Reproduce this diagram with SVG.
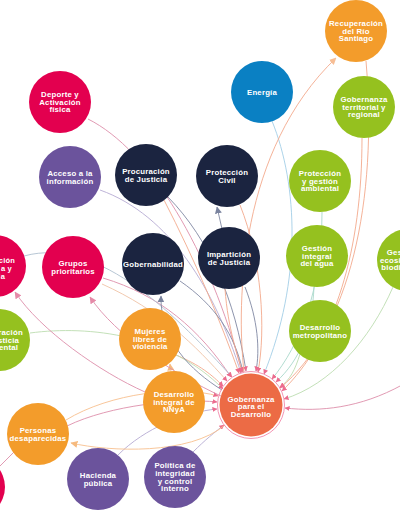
<svg xmlns="http://www.w3.org/2000/svg" width="400" height="516" viewBox="0 0 400 516">
<style>
.n text{font-family:"Liberation Sans",Arial,sans-serif;font-weight:bold;font-size:7.8px;fill:#fff;text-anchor:middle;letter-spacing:0.2px}
.red{fill:#E3004F}.navy{fill:#1B2440}.purple{fill:#6B539C}.blue{fill:#0A80C3}.orange{fill:#F39C2B}.green{fill:#95C11F}.hub{fill:#EC6B45}
#connectors path{fill:none;stroke-width:0.9}
.sal{stroke:#F3A98C}.pnk{stroke:#DE8FAA}.nv{stroke:#8088A3}.pur{stroke:#B6AAD3}.tl{stroke:#A9D8CB}.lb{stroke:#A3CEE6}.lg{stroke:#BCDDB0}.tan{stroke:#EFC3A6}.sl{stroke:#AFC0CF}.or{stroke:#F7C08F}
</style>
<defs>
<marker id="mh" viewBox="0 0 6 6" refX="5.5" refY="3" markerWidth="5" markerHeight="5" markerUnits="userSpaceOnUse" orient="auto"><path d="M0,0L6,3L0,6z" fill="#EC6C8E"/></marker>
<marker id="ms" viewBox="0 0 6 6" refX="5.5" refY="3" markerWidth="7" markerHeight="7" markerUnits="userSpaceOnUse" orient="auto"><path d="M0,0L6,3L0,6z" fill="#F7BE95"/></marker>
<marker id="mn" viewBox="0 0 6 6" refX="5.5" refY="3" markerWidth="7" markerHeight="7" markerUnits="userSpaceOnUse" orient="auto"><path d="M0,0L6,3L0,6z" fill="#7A839E"/></marker>
<marker id="mp" viewBox="0 0 6 6" refX="5.5" refY="3" markerWidth="7" markerHeight="7" markerUnits="userSpaceOnUse" orient="auto"><path d="M0,0L6,3L0,6z" fill="#E58AA8"/></marker>
<marker id="mo" viewBox="0 0 6 6" refX="5.5" refY="3" markerWidth="7" markerHeight="7" markerUnits="userSpaceOnUse" orient="auto"><path d="M0,0L6,3L0,6z" fill="#F6BA7E"/></marker>
</defs>
<rect width="400" height="516" fill="#fff"/>
<g id="connectors">
<path class="pnk" d="M88,119 C150,150 210,250 242,372" marker-end="url(#mh)"/>
<path class="pur" d="M100,190 C170,215 215,290 241,373" marker-end="url(#mh)"/>
<path class="nv" d="M168,197 C210,240 235,300 246,371" marker-end="url(#mh)"/>
<path class="sal" d="M164,200 C195,260 220,320 239,373" marker-end="url(#mh)"/>
<path class="lb" d="M272,121 C298,185 302,280 264,374" marker-end="url(#mh)"/>
<path class="tl" d="M322,212 C322,290 300,345 272,379" marker-end="url(#mh)"/>
<path class="tl" d="M314,287 C312,330 300,360 276,382" marker-end="url(#mh)"/>
<path class="lg" d="M300,354 C295,370 290,380 280,387" marker-end="url(#mh)"/>
<path class="sal" d="M366,61 C378,200 350,330 280,388" marker-end="url(#mh)"/>
<path class="sal" d="M362,138 C362,250 335,340 282,391" marker-end="url(#mh)"/>
<path class="lg" d="M393,287 C370,340 330,385 284,399" marker-end="url(#mh)"/>
<path class="pnk" d="M402,385 C360,408 320,412 285,408" marker-end="url(#mh)"/>
<path class="pur" d="M193,452 C205,440 215,432 224,425" marker-end="url(#mh)"/>
<path class="pur" d="M118,455 C145,428 185,412 217,409" marker-end="url(#mh)"/>
<path class="or" d="M66,420 C110,393 180,385 218,396" marker-end="url(#mh)"/>
<path class="pnk" d="M67,426 C110,405 180,398 217,402" marker-end="url(#mh)"/>
<path class="sal" d="M176,355 C200,365 212,375 223,386" marker-end="url(#mh)"/>
<path class="lg" d="M30,333 C90,325 170,335 223,389" marker-end="url(#mh)"/>
<path class="pnk" d="M103,278 C160,295 200,330 231,377" marker-end="url(#mh)"/>
<path class="tan" d="M102,284 C160,310 195,345 227,381" marker-end="url(#mh)"/>
<path class="sl" d="M24,256 C100,235 180,320 232,377" marker-end="url(#mh)"/>
<path class="nv" d="M180,281 C215,305 235,335 243,372" marker-end="url(#mh)"/>
<path class="nv" d="M245,287 C258,320 260,350 256,371" marker-end="url(#mh)"/>
<path class="sal" d="M240,205 C262,260 266,330 258,372" marker-end="url(#mh)"/>
<path class="sal" d="M225,289 C228,330 238,355 242,372" marker-end="url(#mh)"/>
<path class="sal" d="M244,372 C236,300 240,150 336,58" marker-end="url(#ms)"/>
<path class="or" d="M225,425 C190,455 110,452 71,443" marker-end="url(#mo)"/>
<path class="nv" d="M222,229 L217,207" marker-end="url(#mn)"/>
<path class="nv" d="M222,390 C190,370 160,340 161,296" marker-end="url(#mn)"/>
<path class="or" d="M171,372 L170,364" marker-end="url(#mo)"/>
<path class="pnk" d="M221,396 C175,375 115,335 90,297" marker-end="url(#mp)"/>
<path class="pnk" d="M145,392 C100,372 40,330 15,292" marker-end="url(#mp)"/>
<path class="pnk" d="M14,452 L-4,470"/>
</g>
<g id="deporte" class="n"><circle cx="60" cy="102" r="31" class="red"/><text x="60" y="97.2">Deporte y</text><text x="60" y="104.8">Activación</text><text x="60" y="112.4">física</text></g>
<g id="acceso" class="n"><circle cx="70" cy="177" r="31" class="purple"/><text x="70" y="176">Acceso a la</text><text x="70" y="183.6">información</text></g>
<g id="procuracion" class="n"><circle cx="146" cy="175" r="31" class="navy"/><text x="146" y="174">Procuración</text><text x="146" y="181.6">de Justicia</text></g>
<g id="proteccion-civil" class="n"><circle cx="227" cy="176" r="31" class="navy"/><text x="227" y="175">Protección</text><text x="227" y="182.6">Civil</text></g>
<g id="energia" class="n"><circle cx="262" cy="92" r="31" class="blue"/><text x="262" y="94.8">Energía</text></g>
<g id="recuperacion" class="n"><circle cx="356" cy="31" r="31" class="orange"/><text x="356" y="26.2">Recuperación</text><text x="356" y="33.8">del Río</text><text x="356" y="41.4">Santiago</text></g>
<g id="gob-territorial" class="n"><circle cx="364" cy="107" r="31" class="green"/><text x="364" y="102.2">Gobernanza</text><text x="364" y="109.8">territorial y</text><text x="364" y="117.4">regional</text></g>
<g id="proteccion-ambiental" class="n"><circle cx="320" cy="181" r="31" class="green"/><text x="320" y="176.2">Protección</text><text x="320" y="183.8">y gestión</text><text x="320" y="191.4">ambiental</text></g>
<g id="agua" class="n"><circle cx="317" cy="256" r="31" class="green"/><text x="317" y="251.2">Gestión</text><text x="317" y="258.8">integral</text><text x="317" y="266.4">del agua</text></g>
<g id="metropolitano" class="n"><circle cx="320" cy="331" r="31" class="green"/><text x="320" y="330">Desarrollo</text><text x="320" y="337.6">metropolitano</text></g>
<g id="ecosistemas" class="n"><circle cx="408" cy="260" r="31" class="green"/><text x="408" y="255.2">Gestión de</text><text x="408" y="262.8">ecosistemas y</text><text x="408" y="270.4">biodiversidad</text></g>
<g id="left-red" class="n"><circle cx="-5" cy="266" r="31" class="red"/><text x="15" y="262.5" style="text-anchor:end;font-size:7.5px">ción</text><text x="12" y="270.5" style="text-anchor:end;font-size:7.5px">a y</text><text x="5" y="278.5" style="text-anchor:end;font-size:7.5px">ia</text></g>
<g id="grupos" class="n"><circle cx="73" cy="267" r="31" class="red"/><text x="73" y="266">Grupos</text><text x="73" y="273.6">prioritarios</text></g>
<g id="gobernabilidad" class="n"><circle cx="153" cy="264" r="31" class="navy"/><text x="153" y="266.8">Gobernabilidad</text></g>
<g id="imparticion" class="n"><circle cx="229" cy="258" r="31" class="navy"/><text x="229" y="257">Impartición</text><text x="229" y="264.6">de Justicia</text></g>
<g id="justicia-ambiental" class="n"><circle cx="-1" cy="340" r="31" class="green"/><text x="-1" y="335.2">Procuración</text><text x="-1" y="342.8">de justicia</text><text x="-1" y="350.4">ambiental</text></g>
<g id="mujeres" class="n"><circle cx="150" cy="339" r="31" class="orange"/><text x="150" y="334.2">Mujeres</text><text x="150" y="341.8">libres de</text><text x="150" y="349.4">violencia</text></g>
<g id="nnya" class="n"><circle cx="174" cy="402" r="31" class="orange"/><text x="174" y="397.2">Desarrollo</text><text x="174" y="404.8">integral de</text><text x="174" y="412.4">NNyA</text></g>
<g id="hub" class="n"><circle cx="251" cy="405" r="33.5" fill="none" stroke="#F07AA0" stroke-width="0.8"/><circle cx="251" cy="405" r="31.5" class="hub"/><text x="251" y="401.5">Gobernanza</text><text x="251" y="409">para el</text><text x="251" y="416.5">Desarrollo</text></g>
<g id="personas" class="n"><circle cx="38" cy="434" r="31" class="orange"/><text x="38" y="433">Personas</text><text x="38" y="440.6">desaparecidas</text></g>
<g id="hacienda" class="n"><circle cx="98" cy="479" r="31" class="purple"/><text x="98" y="478">Hacienda</text><text x="98" y="485.6">pública</text></g>
<g id="politica" class="n"><circle cx="175" cy="477" r="31" class="purple"/><text x="175" y="468.4">Política de</text><text x="175" y="476">integridad</text><text x="175" y="483.6">y control</text><text x="175" y="491.2">interno</text></g>
<g id="bottom-left-red" class="n"><circle cx="-26" cy="487" r="31" class="red"/></g>
</svg>
